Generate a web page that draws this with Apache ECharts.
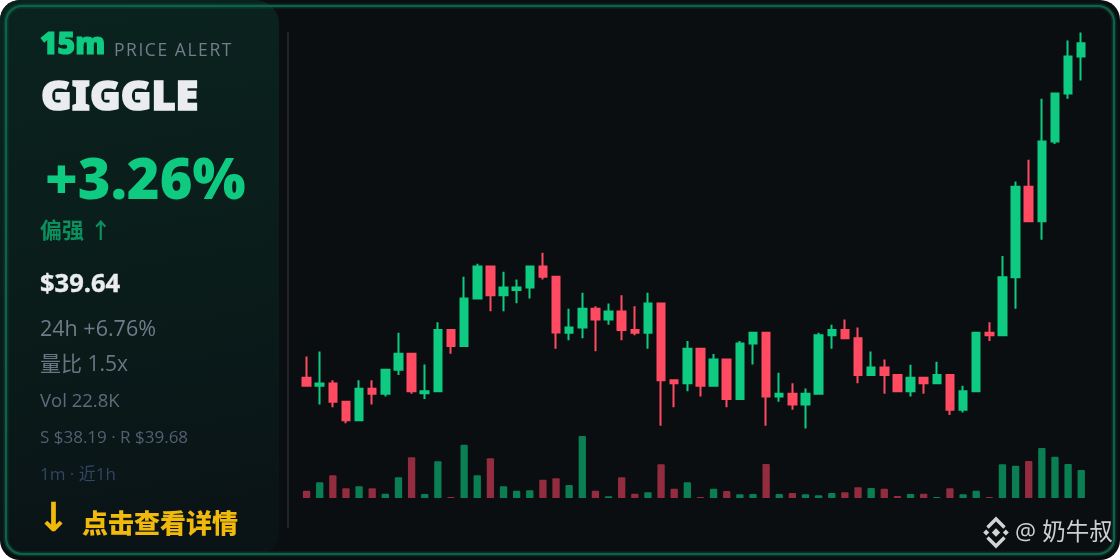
<!DOCTYPE html>
<html><head><meta charset="utf-8">
<style>html,body{margin:0;padding:0;background:#fff;overflow:hidden}#c{width:1120px;height:560px}
#pa{position:absolute;left:114px;top:37px;font:400 17.5px/24px "Open Sans",sans-serif;letter-spacing:1.55px;color:#737d8c;white-space:nowrap}</style>
<script src="https://cdn.jsdelivr.net/npm/echarts@6/dist/echarts.min.js"></script>
</head><body><div id="c"></div><div id="pa">PRICE ALERT</div>
<script>
// open, close, low, high
var opens=[38.368,38.337,38.346,38.277,38.206,38.326,38.307,38.398,38.459,38.309,38.317,38.549,38.489,38.669,38.791,38.681,38.701,38.711,38.791,38.752,38.539,38.559,38.63,38.589,38.62,38.549,38.539,38.65,38.358,38.347,38.478,38.337,38.437,38.287,38.498,38.539,38.297,38.307,38.266,38.307,38.529,38.549,38.518,38.378,38.407,38.378,38.317,38.368,38.347,38.378,38.246,38.317,38.539,38.529,38.75,39.094,38.963,39.266,39.448,39.589];
var closes=[38.337,38.346,38.277,38.206,38.326,38.307,38.398,38.459,38.317,38.317,38.549,38.489,38.669,38.791,38.681,38.711,38.711,38.791,38.752,38.54,38.559,38.63,38.589,38.62,38.549,38.539,38.65,38.358,38.347,38.478,38.337,38.437,38.287,38.498,38.539,38.297,38.307,38.266,38.307,38.529,38.549,38.518,38.378,38.407,38.378,38.317,38.368,38.347,38.378,38.246,38.317,38.539,38.529,38.75,39.094,38.963,39.266,39.448,39.589,39.639];
var lows=[38.337,38.266,38.256,38.195,38.206,38.266,38.297,38.378,38.307,38.287,38.317,38.459,38.489,38.669,38.621,38.621,38.651,38.669,38.741,38.478,38.51,38.518,38.469,38.569,38.51,38.529,38.478,38.185,38.256,38.317,38.297,38.337,38.256,38.287,38.418,38.185,38.277,38.246,38.175,38.307,38.478,38.518,38.347,38.378,38.307,38.317,38.297,38.307,38.347,38.226,38.236,38.317,38.508,38.529,38.63,38.963,38.892,39.256,39.428,39.498];
var highs=[38.449,38.468,38.358,38.277,38.358,38.358,38.398,38.539,38.459,38.418,38.579,38.549,38.752,38.801,38.791,38.771,38.741,38.791,38.843,38.752,38.63,38.691,38.64,38.65,38.681,38.64,38.691,38.65,38.358,38.508,38.478,38.458,38.437,38.508,38.539,38.539,38.387,38.347,38.327,38.539,38.569,38.589,38.559,38.468,38.437,38.378,38.417,38.368,38.429,38.378,38.337,38.539,38.579,38.831,39.114,39.196,39.428,39.448,39.65,39.68];
var volumes=[5.9,12.8,18.5,7.9,9.5,7.9,3.5,16.9,33.1,3.3,29.9,0.8,43.4,18.5,32.3,9.5,5.9,6.3,14.9,16.0,10.6,50.5,5.9,1.4,16.9,3.5,4.6,27.4,7.6,12.8,0.8,7.6,5.7,3.0,3.3,27.7,3.3,4.1,3.0,2.2,4.1,4.6,8.7,8.1,7.6,1.6,3.3,3.5,0.8,7.9,3.0,5.9,0.8,27.4,26.3,30.1,40.7,33.6,27.7,22.8];
var upFlags=[0,1,0,0,1,0,1,1,0,1,1,0,1,1,0,1,1,1,0,0,1,1,0,1,0,0,1,0,0,1,0,1,0,1,1,0,1,0,1,1,1,0,0,1,0,0,1,0,1,0,1,1,0,1,1,0,1,1,1,1];
var categories=opens.map(function(_,i){return i+1;});

var UP='#0ecb81',DOWN='#ff4a62',VUP='#0a7f54',VDOWN='#932c3e';
var SANS='"Open Sans","Noto Sans CJK SC",sans-serif';
var HEAVY='"Noto Sans","Noto Sans CJK SC",sans-serif';
function txt(text,x,y,size,weight,color,extra,fam){
  var s={text:text,x:x,y:y,fill:color,font:weight+' '+size+'px '+(fam||SANS),textVerticalAlign:'middle',textBaseline:'middle'};
  if(extra)for(var k in extra)s[k]=extra[k];
  return {type:'text',silent:true,z:5,style:s};
}
var ccy=532.5,ccx=996;
function dia(cx,cy,r){return {type:'polygon',silent:true,z:5,shape:{points:[[cx,cy-r],[cx+r,cy],[cx,cy+r],[cx-r,cy]]},style:{fill:'#d4d4d4'}};}
function chev(sy){return {type:'polyline',silent:true,z:5,shape:{points:[[ccx-8.5,ccy+sy*5],[ccx,ccy+sy*13.5],[ccx+8.5,ccy+sy*5]]},style:{fill:'none',stroke:'#d4d4d4',lineWidth:3.4}};}

var graphics=[
 {type:'rect',silent:true,z:-10,shape:{x:0,y:0,width:1120,height:560,r:20},style:{fill:'#0a0e11'}},
 {type:'rect',silent:true,z:-9,shape:{x:0,y:0,width:279,height:556,r:[20,24,24,20]},
  style:{fill:{type:'linear',x:0,y:0,x2:0.35,y2:1,colorStops:[{offset:0,color:'#0a231f'},{offset:0.55,color:'#0a1c1a'},{offset:1,color:'#0a1316'}]}}},
 {type:'rect',silent:true,z:-8,shape:{x:6,y:6,width:1108,height:548,r:16},style:{fill:'none',stroke:'rgba(14,96,70,0.35)',lineWidth:5}},
 {type:'rect',silent:true,z:-7,shape:{x:6,y:6,width:1108,height:548,r:16},style:{fill:'none',stroke:'#0e6248',lineWidth:2}},
 {type:'line',silent:true,z:-6,shape:{x1:288,y1:32,x2:288,y2:528},style:{stroke:'#20252a',lineWidth:2}},
 txt('15m',40,45.5,30,900,UP,{stroke:UP,lineWidth:1.2},HEAVY),
 txt('GIGGLE',41,98.5,41.5,900,'#eaecef',{stroke:'#eaecef',lineWidth:1.6},HEAVY),
 txt('+3.26%',45,183,56,900,UP,{shadowBlur:12,shadowColor:'rgba(14,203,129,0.45)'},HEAVY),
 txt('偏强 ↑',40,232,22,700,'#0b8f5e'),
 txt('$39.64',40,284.5,25.5,700,'#eaecef',{stroke:'#eaecef',lineWidth:0.4}),
 txt('24h +6.76%',40,329.5,21.5,400,'#717b8b'),
 txt('量比 1.5x',40,365.5,21,400,'#6a7584'),
 txt('Vol 22.8K',40,402,18.5,400,'#5f6b7c'),
 txt('S $38.19 · R $39.68',40,438.5,17,400,'#545f70'),
 txt('1m · 近1h',40,475,17,400,'#2f4560'),
 txt('↓',53.5,521,40,700,'#f0b90b',{textAlign:'center',shadowBlur:8,shadowColor:'rgba(240,185,11,0.4)'},'"DejaVu Sans"'),
 txt('点击查看详情',82,526,26,900,'#f0b90b',{shadowBlur:10,shadowColor:'rgba(240,185,11,0.45)'}),
 dia(ccx,ccy,4.2),dia(ccx-9.8,ccy,3),dia(ccx+9.8,ccy,3),chev(-1),chev(1),
 txt('@ 奶牛叔',1015,533,23.5,400,'#cfcfcf')
];

var candleData=opens.map(function(o,i){return [o,closes[i],lows[i],highs[i]];});
var volData=volumes.map(function(v,i){return {value:v,itemStyle:{color:upFlags[i]?VUP:VDOWN}};});
var left=300,width=787.8;
var chart=echarts.init(document.getElementById('c'),null,{renderer:'canvas',devicePixelRatio:1});
chart.setOption({
 animation:false,backgroundColor:'transparent',
 graphic:{elements:graphics},
 grid:[{left:left,width:width,top:32.5,height:396},{left:left,width:width,top:436,height:62}],
 xAxis:[
  {type:'category',gridIndex:0,data:categories,show:false},
  {type:'category',gridIndex:1,data:categories,show:false}],
 yAxis:[
  {type:'value',gridIndex:0,min:38.175,max:39.68,show:false,scale:true},
  {type:'value',gridIndex:1,min:0,max:50.5,show:false}],
 series:[
  {type:'candlestick',xAxisIndex:0,yAxisIndex:0,data:candleData,barWidth:8,
   itemStyle:{color:UP,color0:DOWN,borderColor:UP,borderColor0:DOWN,borderWidth:2}},
  {type:'bar',xAxisIndex:1,yAxisIndex:1,data:volData,barWidth:7.3,itemStyle:{borderRadius:[1,1,0,0]}}
 ]
});
</script></body></html>
